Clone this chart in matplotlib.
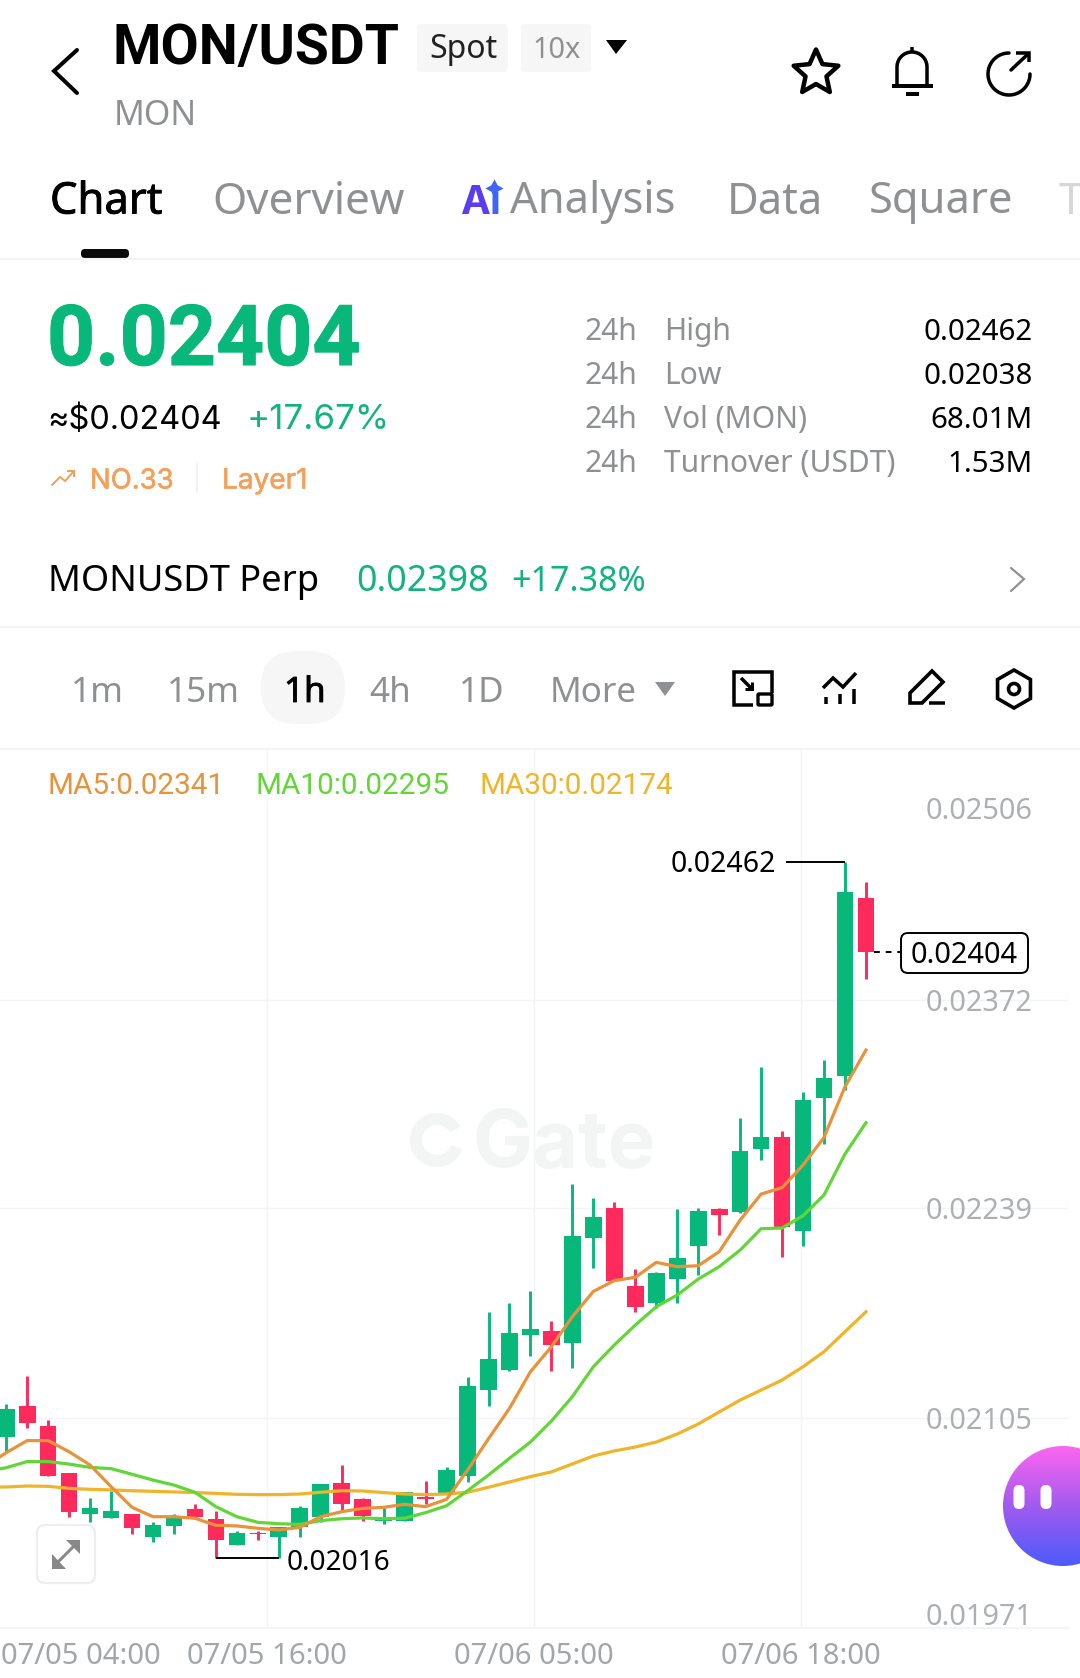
import numpy as np
import matplotlib
matplotlib.use('Agg')
import matplotlib.pyplot as plt
import matplotlib.patheffects as pe
from matplotlib.colors import LinearSegmentedColormap
from matplotlib.patches import FancyBboxPatch, Circle, Wedge, Polygon
from matplotlib.transforms import ScaledTranslation

W, H = 1080, 1678

# candles
highs = [0.021139, 0.021320, 0.021039, 0.020698, 0.020538, 0.020587, 0.020438, 0.020385, 0.020436, 0.020500,
         0.020460, 0.020330, 0.020332, 0.020357, 0.020489, 0.020630, 0.020749, 0.020538, 0.020474, 0.020579,
         0.020649, 0.020736, 0.021315, 0.021726, 0.021784, 0.021865, 0.021673, 0.022544, 0.022454, 0.022433,
         0.022005, 0.021986, 0.022384, 0.022395, 0.022395, 0.022965, 0.023296, 0.022882, 0.023132, 0.023336,
         0.024605, 0.024473]
lows = [0.020836, 0.020990, 0.020683, 0.020421, 0.020389, 0.020411, 0.020310, 0.020262, 0.020310, 0.020417,
        0.020155, 0.020240, 0.020272, 0.020155, 0.020291, 0.020389, 0.020464, 0.020391, 0.020372, 0.020391,
        0.020502, 0.020570, 0.020643, 0.021130, 0.021349, 0.021450, 0.021349, 0.021371, 0.022009, 0.021929,
        0.021730, 0.021752, 0.021788, 0.021967, 0.022218, 0.022359, 0.022699, 0.022080, 0.022150, 0.022799,
        0.023147, 0.023858]
opens = [0.020932, 0.021128, 0.020998, 0.020698, 0.020438, 0.020411, 0.020438, 0.020291, 0.020362, 0.020468,
         0.020406, 0.020240, 0.020319, 0.020291, 0.020357, 0.020421, 0.020638, 0.020536, 0.020396, 0.020391,
         0.020549, 0.020570, 0.020681, 0.021230, 0.021360, 0.021579, 0.021605, 0.021530, 0.022199, 0.022395,
         0.021894, 0.021788, 0.021939, 0.022150, 0.022386, 0.022367, 0.022767, 0.022844, 0.022248, 0.023098,
         0.023238, 0.024373]
closes = [0.021107, 0.021022, 0.020683, 0.020453, 0.020477, 0.020460, 0.020351, 0.020368, 0.020428, 0.020421,
          0.020272, 0.020317, 0.020310, 0.020355, 0.020477, 0.020630, 0.020502, 0.020425, 0.020406, 0.020579,
          0.020532, 0.020719, 0.021258, 0.021426, 0.021596, 0.021618, 0.021520, 0.022214, 0.022335, 0.021929,
          0.021758, 0.021975, 0.022075, 0.022376, 0.022348, 0.022755, 0.022844, 0.022269, 0.023083, 0.023225,
          0.024414, 0.024028]

# moving averages start one candle earlier, off the left edge
ma5 = [0.020741, 0.020830, 0.020907, 0.020907, 0.020836, 0.020751, 0.020613, 0.020481, 0.020421, 0.020421,
       0.020411, 0.020366, 0.020362, 0.020347, 0.020336, 0.020353, 0.020421, 0.020453, 0.020474, 0.020481,
       0.020500, 0.020485, 0.020532, 0.020719, 0.020919, 0.021113, 0.021347, 0.021507, 0.021699, 0.021860,
       0.021929, 0.021950, 0.022046, 0.022018, 0.022024, 0.022114, 0.022316, 0.022482, 0.022523, 0.022667,
       0.022844, 0.023168, 0.023402]
ma10 = [0.020709, 0.020734, 0.020773, 0.020773, 0.020757, 0.020736, 0.020728, 0.020692, 0.020655, 0.020623,
        0.020577, 0.020485, 0.020421, 0.020385, 0.020376, 0.020372, 0.020396, 0.020408, 0.020413, 0.020408,
        0.020411, 0.020447, 0.020491, 0.020587, 0.020687, 0.020794, 0.020898, 0.021032, 0.021188, 0.021379,
        0.021518, 0.021645, 0.021762, 0.021837, 0.021939, 0.022018, 0.022124, 0.022261, 0.022265, 0.022344,
        0.022476, 0.022738, 0.022938]
ma30 = [0.020609, 0.020611, 0.020617, 0.020615, 0.020602, 0.020596, 0.020592, 0.020587, 0.020583, 0.020579,
        0.020575, 0.020570, 0.020564, 0.020562, 0.020562, 0.020566, 0.020577, 0.020587, 0.020585, 0.020575,
        0.020566, 0.020562, 0.020566, 0.020577, 0.020609, 0.020643, 0.020677, 0.020707, 0.020758, 0.020809,
        0.020841, 0.020866, 0.020898, 0.020949, 0.021013, 0.021090, 0.021166, 0.021230, 0.021294, 0.021379,
        0.021475, 0.021603, 0.021730]

price_ticks = [0.02506, 0.02372, 0.02239, 0.02105, 0.01971]
time_labels = ['07/05 04:00', '07/05 16:00', '07/06 05:00', '07/06 18:00']
time_pos = [3.57, 12.44, 25.17, 37.9]
stat_names = ['High', 'Low', 'Vol (MON)', 'Turnover (USDT)']
stat_values = ['0.02462', '0.02038', '68.01M', '1.53M']
frames = ['1m', '15m', '1h', '4h', '1D', 'More']

GREEN = '#08B87B'
RED = '#FE2A5C'
GREY = '#8E9092'
LINE = '#F3F4F4'

fig = plt.figure(figsize=(W / 100, H / 100), dpi=100, facecolor='white')


def px_axes(z):
    a = fig.add_axes([0, 0, 1, 1], zorder=z)
    a.set_xlim(0, W)
    a.set_ylim(H, 0)
    a.axis('off')
    a.patch.set_alpha(0)
    return a


bg = px_axes(0)
ui = px_axes(2)

# chart axes sits on the pixel box 0..1068 x 749..1628
step = 20.97
ax = fig.add_axes([0, 1 - 1628 / H, 1068 / W, (1628 - 749) / H], zorder=1)
ax.patch.set_alpha(0)
ax.set_xlim(-6.2 / step, (1068 - 6.2) / step)
ax.set_ylim(0.01971, 0.025325)
for s in ax.spines.values():
    s.set_visible(False)
ax.spines['bottom'].set_visible(True)
ax.spines['bottom'].set_color(LINE)
ax.spines['bottom'].set_linewidth(1.5)

ax.set_axisbelow(True)
ax.grid(True, color=LINE, lw=1)
ax.yaxis.tick_right()
ax.set_yticks(price_ticks)
ax.set_yticklabels(['%.5f' % p for p in price_ticks], family='Noto Sans', fontsize=20.8, color='#ADB0B2', ha='right')
ax.tick_params(axis='y', length=0, pad=-25.5)
ax.set_xticks(time_pos + [(1068 - 6.2) / step])
ax.set_xticklabels(time_labels + [''], family='Noto Sans', fontsize=21, color='#A3A6A8')
ax.tick_params(axis='x', length=0, pad=10)
ax.xaxis.get_major_ticks()[0].gridline.set_visible(False)
ax.yaxis.get_major_ticks()[0].gridline.set_visible(False)
ylabs = ax.get_yticklabels()
ylabs[0].set_va('top')
ylabs[0].set_transform(ylabs[0].get_transform() + ScaledTranslation(0, -0.07, fig.dpi_scale_trans))
ylabs[-1].set_va('bottom')
ylabs[-1].set_transform(ylabs[-1].get_transform() + ScaledTranslation(0, -0.04, fig.dpi_scale_trans))

x = np.arange(len(opens))
x_ma = np.arange(-1, len(opens))
o = np.array(opens)
c = np.array(closes)
cols = [GREEN if c[i] >= o[i] else RED for i in x]
ax.vlines(x, lows, highs, colors=cols, lw=2.1, capstyle='butt', zorder=3)
ax.bar(x, np.abs(c - o), bottom=np.minimum(o, c), width=0.795, color=cols, zorder=3)
ax.plot(x_ma, ma30, color='#F0B429', lw=2.3, zorder=4, solid_joinstyle='round')
ax.plot(x_ma, ma10, color='#62D637', lw=2.3, zorder=4, solid_joinstyle='round')
ax.plot(x_ma, ma5, color='#E8923A', lw=2.3, zorder=4, solid_joinstyle='round')

# high / low / last price leaders
ax.hlines(highs[40], 37.19, 40, color='black', lw=1.4, zorder=5)
ax.hlines(lows[10], 10, 13, color='black', lw=1.4, zorder=5)
ax.hlines(closes[41], 41.4, 42.7, color='black', lw=1.4, linestyles=(0, (3, 3)), zorder=5)


def T(x0, y0, s, px, color='black', fam='Noto Sans', weight='normal', ha='left', target=ui, heavy=0):
    t = target.text(x0, y0, s, fontsize=px * 0.72, color=color, family=fam, weight=weight,
                    ha=ha, va='baseline')
    if heavy:
        t.set_path_effects([pe.withStroke(linewidth=heavy, foreground=color)])
    return t


def L(pts, lw=3.5, color='black', cap='round', target=ui):
    pts = np.array(pts, dtype=float)
    target.plot(pts[:, 0], pts[:, 1], color=color, lw=lw * 0.72, solid_capstyle=cap, solid_joinstyle='miter')


def rbox(x0, y0, x1, y1, r, fc, ec='none', lw=0, target=ui):
    target.add_patch(FancyBboxPatch((x0 + r, y0 + r), x1 - x0 - 2 * r, y1 - y0 - 2 * r,
                                    boxstyle='round,pad=%g,rounding_size=%g' % (r, r), fc=fc, ec=ec, lw=lw))


# watermark, under the candles
T(472, 1167, 'Gate', 80, '#F3F4F4', 'Inter', 'bold', target=bg)
bg.add_patch(Wedge((437, 1140), 27, 20, 330, width=12, fc='#F3F4F4', ec='none'))

# header
L([(77, 50), (54, 71), (77, 93)], 4)
T(113, 64, 'MON/USDT', 55.3, 'black', 'Roboto', 'bold')
rbox(417, 24, 508, 72, 4, '#F6F6F6')
rbox(521, 24, 591, 72, 4, '#F6F6F6')
T(429, 58, 'Spot', 32, '#222222')
T(532, 58, '10x', 29, GREY)
ui.add_patch(Polygon([(606, 40), (627, 40), (616, 54)], fc='black', ec='none'))
T(114, 125, 'MON', 34, GREY)

# star
ang = np.deg2rad(np.arange(-90, 270, 36))
rad = np.where(np.arange(10) % 2 == 0, 23.5, 11)
star = np.c_[816 + rad * np.cos(ang), 73 + rad * np.sin(ang)]
ui.add_patch(Polygon(star, fc='none', ec='black', lw=3.2, joinstyle='round'))

# bell
t = np.linspace(np.pi, 2 * np.pi, 30)
bell = np.r_[[(897, 85)], np.c_[912 + 15 * np.cos(t), 67 + 15 * np.sin(t)], [(927, 85)]]
L(bell, 3.5)
L([(892, 86), (933, 86)], 4, cap='butt')
L([(912, 47), (912, 52)], 3.5, cap='butt')
L([(906, 94), (919, 94)], 4, cap='butt')

# share / refresh
t = np.deg2rad(np.linspace(-90, -360, 60))
L(np.c_[1009 + 21 * np.cos(t), 74 + 21 * np.sin(t)], 3.5)
L([(1011, 70), (1028, 54)], 3.5)
L([(1016, 53), (1029, 53), (1029, 62)], 3.5, cap='butt')

# tabs
T(50, 213.5, 'Chart', 43.5, 'black', heavy=0.6)
T(212, 213.5, 'Overview', 44, GREY)
T(460, 213.5, 'A', 40, '#5B3DF0', 'Inter', 'bold')
T(489, 213.5, 'ı', 40, '#3D66F5', 'Inter', 'bold')
ui.plot([494], [188], marker=(4, 1, 0), ms=13, color='#3D66F5', mew=0)
T(510, 213.5, 'Analysis', 43.5, GREY)
T(727, 213.5, 'Data', 43.5, GREY)
T(869, 213.5, 'Square', 43.5, GREY)
T(1059, 213.5, 'T', 43.5, '#D5D6D7')
rbox(81, 249, 129, 258, 4, '#0A0A0A')
ui.plot([0, W], [259, 259], color=LINE, lw=1.5)

# price block
T(47, 365, '0.02404', 84, GREEN, 'Roboto', 'bold', heavy=0.8)
T(47, 429, '≈$0.02404', 32.5, 'black', 'Inter')
T(247, 429, '+17.67%', 35, '#12B381', 'Inter')
L([(52, 485), (60, 477), (65, 481), (74, 471)], 2, '#F4A05A')
L([(67, 471), (74, 471), (74, 477)], 2, '#F4A05A', cap='butt')
T(90, 488.5, 'NO.33', 27.5, '#F4A05A', 'Inter', heavy=0.4)
ui.plot([197, 197], [463, 492], color='#F0F0F0', lw=1.2)
T(222, 488.5, 'Layer1', 28, '#F4A05A', 'Inter', heavy=0.4)

rows = [340, 384, 428, 472]
for yy, name, val in zip(rows, stat_names, stat_values):
    T(584, yy, '24h', 30, GREY)
    T(664, yy, name, 30, GREY)
    T(1033, yy, val, 29.5, 'black', ha='right')

T(48, 591, 'MONUSDT Perp', 36.3, 'black')
T(356, 591, '0.02398', 35.8, '#12B381')
T(511, 591, '+17.38%', 34, '#12B381')
L([(1011, 568), (1024, 579), (1011, 591)], 2.2, GREY)
ui.plot([0, W], [627, 627], color=LINE, lw=1.5)

# timeframe row
rbox(261, 651, 345, 724, 36, '#F6F6F6')
for name, xx in zip(frames, [71, 167, 284, 369, 459, 550]):
    T(xx, 702, name, 35, 'black' if name == '1h' else GREY, heavy=0.6 if name == '1h' else 0)
ui.add_patch(Polygon([(655, 682), (675, 682), (665, 696)], fc=GREY, ec='none'))

# tool icons
L([(772, 693), (772, 672), (734, 672), (734, 705), (753, 705)], 3.5, cap='butt')
ui.add_patch(FancyBboxPatch((758, 694), 14, 11, boxstyle='round,pad=0,rounding_size=1', fc='none', ec='black', lw=2.4))
L([(741, 678), (752, 689)], 3.5, cap='butt')
L([(745, 689), (752, 689), (752, 682)], 3, cap='butt')
L([(823, 688), (833, 678), (843, 687), (856, 673)], 3.5, cap='butt')
L([(826, 697), (826, 704)], 3.5, cap='butt')
L([(840, 694), (840, 704)], 3.5, cap='butt')
L([(854, 689), (854, 704)], 3.5, cap='butt')
ui.add_patch(Polygon([(910, 693), (932, 671), (943, 682), (922, 703), (910, 703)], fc='none', ec='black', lw=2.6))
L([(929, 703), (945, 703)], 3.5, cap='butt')
ang = np.deg2rad(np.arange(-90, 270, 60))
ui.add_patch(Polygon(np.c_[1014 + 19 * np.cos(ang), 689 + 19 * np.sin(ang)], fc='none', ec='black', lw=2.6))
ui.add_patch(Circle((1014, 689), 5.5, fc='none', ec='black', lw=2.6))
ui.plot([0, W], [749, 749], color=LINE, lw=1.5)

# MA legend
T(48, 794, 'MA5:0.02341', 29.7, '#E8923A', 'Roboto')
T(256, 794, 'MA10:0.02295', 29.7, '#62D637', 'Roboto')
T(480, 794, 'MA30:0.02174', 29.7, '#F0B429', 'Roboto')

# chart labels
T(671, 872, '0.02462', 28.5, 'black')
T(287, 1570, '0.02016', 28, 'black')
rbox(901, 933, 1028, 973, 7, 'white', 'black', 1.4)
T(964.5, 963, '0.02404', 29, 'black', ha='center')

# expand button
rbox(37, 1525, 95, 1583, 8, 'white', '#EEEEEE', 1.6)
L([(58, 1562), (74, 1546)], 3, '#888888', cap='butt')
ui.add_patch(Polygon([(52, 1554), (52, 1569), (66, 1569)], fc='#888888', ec='none'))
ui.add_patch(Polygon([(66, 1540), (80, 1540), (80, 1554)], fc='#888888', ec='none'))

# floating purple button
cmap = LinearSegmentedColormap.from_list('btn', ['#FB66EE', '#A25AF0', '#4C5CFB'])
im = ui.imshow(np.linspace(0, 1, 120).reshape(-1, 1), cmap=cmap, extent=(1002, 1080, 1566, 1446),
               aspect='auto', zorder=6)
clip = Circle((1063, 1506), 60, transform=ui.transData)
im.set_clip_path(clip)
ui.set_xlim(0, W)
ui.set_ylim(H, 0)
rbox(1013.5, 1485, 1024.5, 1509, 5.5, 'white')
rbox(1040.5, 1485, 1051.5, 1509, 5.5, 'white')
for p in ui.patches[-2:]:
    p.set_zorder(7)

fig.savefig('out.png', dpi=100)
